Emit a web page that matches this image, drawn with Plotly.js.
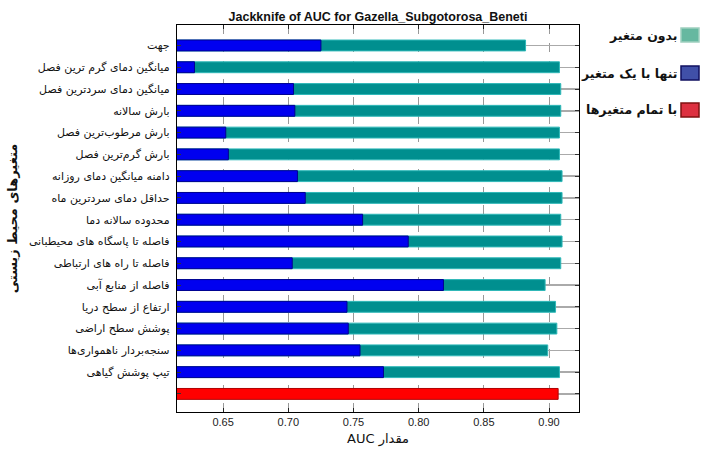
<!DOCTYPE html>
<html>
<head>
<meta charset="utf-8">
<script src="https://cdn.plot.ly/plotly-3.0.1.min.js"></script>
<style>html,body{margin:0;padding:0;background:#fff;}#chart{width:710px;height:451px;}</style>
</head>
<body>
<div id="chart"></div>
<script>
const variables = [
  "جهت",
  "میانگین دمای گرم ترین فصل",
  "میانگین دمای سردترین فصل",
  "بارش سالانه",
  "بارش مرطوب‌ترین فصل",
  "بارش گرم‌ترین فصل",
  "دامنه میانگین دمای روزانه",
  "حداقل دمای سردترین ماه",
  "محدوده سالانه دما",
  "فاصله تا پاسگاه های محیطبانی",
  "فاصله تا راه های ارتباطی",
  "فاصله از منابع آبی",
  "ارتفاع از سطح دریا",
  "پوشش سطح اراضی",
  "سنجه‌بردار ناهمواری‌ها",
  "تیپ پوشش گیاهی"
];
const withoutVariable = [0.882, 0.908, 0.909, 0.909, 0.908, 0.908, 0.910, 0.910, 0.909, 0.910, 0.909, 0.897, 0.905, 0.906, 0.899, 0.908];
const withOnlyVariable = [0.725, 0.628, 0.704, 0.705, 0.652, 0.654, 0.707, 0.713, 0.757, 0.792, 0.703, 0.819, 0.745, 0.746, 0.755, 0.773];
const withAllVariables = [0.907];
const legendNames = ["بدون متغیر", "تنها با یک متغیر", "با تمام متغیرها"];
const xTicks = [0.65, 0.70, 0.75, 0.80, 0.85, 0.90];

const idx = variables.map((_, i) => i);
const allIdx = [variables.length];
const tickVals = idx.concat(allIdx);
const tickText = variables.concat([""]);

const persianFont = "DejaVu Sans";

const traces = [
  {type: "bar", orientation: "h", name: legendNames[0], y: idx, x: withoutVariable, width: 0.5,
   marker: {color: "#008f8f", line: {color: "#2fb8b8", width: 1}}},
  {type: "bar", orientation: "h", name: legendNames[1], y: idx, x: withOnlyVariable, width: 0.5,
   marker: {color: "#0000f0", line: {color: "#000090", width: 1}}},
  {type: "bar", orientation: "h", name: legendNames[2], y: allIdx, x: withAllVariables, width: 0.5,
   marker: {color: "#ff0000", line: {color: "#b00000", width: 1}}}
];

const legendColors = [["#66b8a0", "#9fcfbf"], ["#4050a8", "#101060"], ["#dd3040", "#801010"]];
const legendY = [35, 73, 110];
const shapes = [];
const annotations = [];
legendNames.forEach((n, i) => {
  shapes.push({type: "rect", xref: "paper", yref: "paper",
    x0: (681 - 177) / 402, x1: (699 - 177) / 402,
    y0: (412 - legendY[i] - 7) / 387, y1: (412 - legendY[i] + 7) / 387,
    fillcolor: legendColors[i][0], line: {color: legendColors[i][1], width: 1.5}});
  annotations.push({xref: "paper", yref: "paper", x: (679 - 177) / 402, y: (412 - legendY[i]) / 387,
    xanchor: "right", yanchor: "middle", showarrow: false, text: "<b>" + n + "</b>",
    font: {family: persianFont, size: 12.5, color: "#111"}});
});

const layout = {
  width: 710, height: 451,
  margin: {l: 177, r: 131, t: 25, b: 39},
  paper_bgcolor: "#fff", plot_bgcolor: "#fff",
  barmode: "overlay",
  showlegend: false,
  title: {text: "<b>Jackknife of AUC for Gazella_Subgotorosa_Beneti</b>", x: 0.5, xref: "paper", xanchor: "center",
          y: 1, yref: "paper", yanchor: "bottom", pad: {b: 4},
          font: {family: "Liberation Sans, Arial", size: 12.5, color: "#111"}},
  xaxis: {range: [0.6146, 0.923], tickvals: xTicks, tickformat: ".2f",
          showgrid: true, gridcolor: "#999", griddash: "dash", gridwidth: 1,
          zeroline: false, showline: true, linecolor: "#000", linewidth: 1.2, mirror: "ticks",
          ticks: "inside", ticklen: 4, tickcolor: "#222",
          tickfont: {family: "Liberation Sans, Arial", size: 11, color: "#222"},
          title: {text: "AUC مقدار", standoff: 6, font: {family: persianFont, size: 13, color: "#111"}}},
  yaxis: {range: [16.83, -0.94], tickvals: tickVals, ticktext: tickText,
          showgrid: true, gridcolor: "#aaa", gridwidth: 1.5,
          zeroline: false, showline: true, linecolor: "#000", linewidth: 1.2, mirror: "ticks",
          ticks: "inside", ticklen: 4, tickcolor: "#333", ticklabelstandoff: 4,
          tickfont: {family: persianFont, size: 11, color: "#111"},
          title: {text: "<b>متغیرهای محیط زیستی</b>", standoff: 8, font: {family: persianFont, size: 13, color: "#111"}}},
  shapes: shapes,
  annotations: annotations
};

Plotly.newPlot("chart", traces, layout, {displayModeBar: false, staticPlot: true});
</script>
</body>
</html>
